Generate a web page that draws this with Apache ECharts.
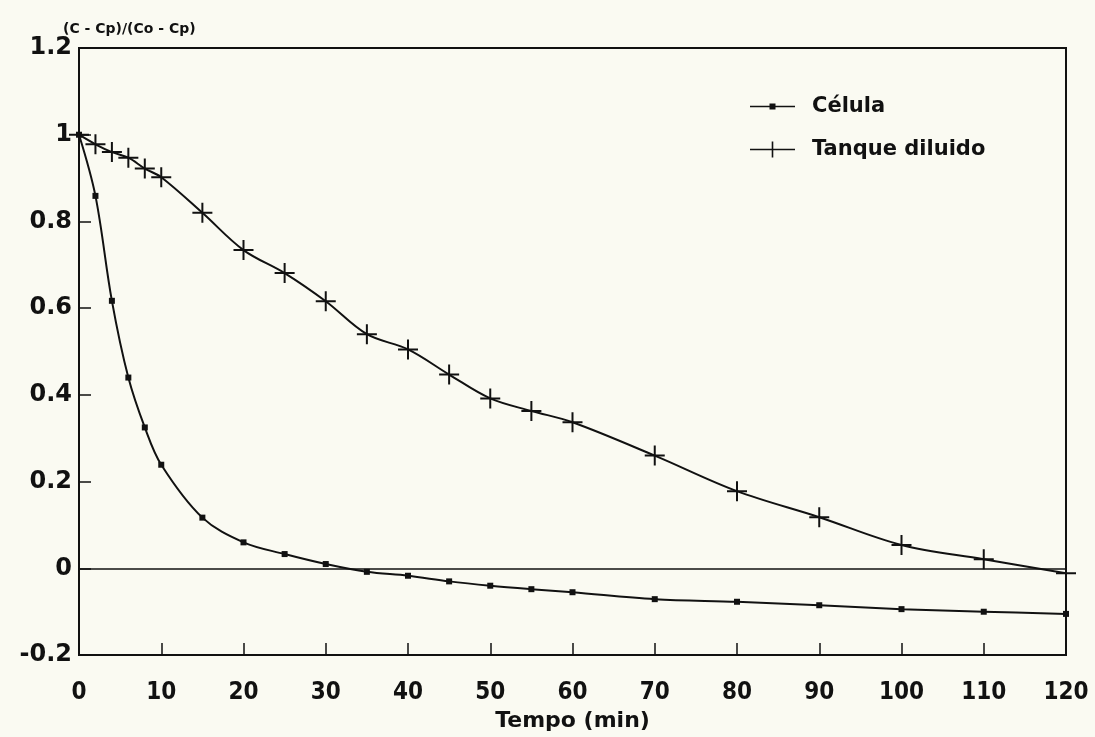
<!DOCTYPE html>
<html>
<head>
<meta charset="utf-8">
<title>Célula / Tanque diluido</title>
<script src="https://cdn.jsdelivr.net/npm/echarts@6/dist/echarts.min.js"></script>
<style>
  html, body { margin: 0; padding: 0; background: #fafaf2; }
  #chart { width: 1095px; height: 737px; }
</style>
</head>
<body>
<div id="chart"></div>
<script>
// Normalised concentration (C - Cp)/(Co - Cp) versus time (min)
const celulaTime  = [0, 2, 4, 6, 8, 10, 15, 20, 25, 30, 35, 40, 45, 50, 55, 60, 70, 80, 90, 100, 110, 120];
const celulaValue = [1.0, 0.859, 0.617, 0.44, 0.325, 0.239, 0.117, 0.06, 0.033, 0.01, -0.008, -0.017, -0.03, -0.04, -0.048, -0.055, -0.071, -0.077, -0.085, -0.094, -0.1, -0.105];

const tanqueTime  = [0, 2, 4, 6, 8, 10, 15, 20, 25, 30, 35, 40, 45, 50, 55, 60, 70, 80, 90, 100, 110, 120];
const tanqueValue = [1.0, 0.978, 0.96, 0.947, 0.922, 0.902, 0.82, 0.734, 0.681, 0.616, 0.54, 0.505, 0.447, 0.392, 0.363, 0.337, 0.26, 0.178, 0.118, 0.054, 0.021, -0.011];

const seriesNames = ['Célula', 'Tanque diluido'];
const xAxisTitle = 'Tempo (min)';
const yAxisTitle = '(C - Cp)/(Co - Cp)';
const xMin = 0, xMax = 120, xStep = 10;
const yMin = -0.2, yMax = 1.2, yStep = 0.2;

const pairs = (xs, ys) => xs.map((x, i) => [x, ys[i]]);

const ink = '#111';
const plusPath = 'path://M9,0h2v9h9v2h-9v9h-2v-9h-9v-2h9z';
// legend icons: a short line with the series marker in the middle
const legendDotIcon  = 'path://M0,7.2h45v1.6h-45z M19.5,5h6v6h-6z';
const legendPlusIcon = 'path://M0,7.2h45v1.6h-45z M21.7,0h1.6v16h-1.6z';

const chart = echarts.init(document.getElementById('chart'), null, { renderer: 'canvas' });

chart.setOption({
  animation: false,
  backgroundColor: '#fafaf2',
  grid: {
    left: 79, right: 29, top: 48, bottom: 79,
    show: true, borderColor: ink, borderWidth: 2, backgroundColor: 'transparent'
  },
  legend: {
    orient: 'vertical',
    left: 745, top: 91,
    itemWidth: 45, itemHeight: 16, itemGap: 22,
    textStyle: { fontFamily: 'DejaVu Sans', fontWeight: 'bold', fontSize: 21, color: ink, padding: [0, 0, 0, 12] },
    data: [
      { name: seriesNames[0], icon: legendDotIcon },
      { name: seriesNames[1], icon: legendPlusIcon }
    ]
  },
  xAxis: {
    type: 'value', min: xMin, max: xMax, interval: xStep,
    name: xAxisTitle, nameLocation: 'middle', nameGap: 52,
    nameTextStyle: { fontFamily: 'DejaVu Sans', fontWeight: 'bold', fontSize: 22, color: ink },
    axisLine: { show: true, onZero: false, lineStyle: { color: ink, width: 2 } },
    axisTick: { show: true, inside: true, length: 12, lineStyle: { color: ink, width: 1.5 } },
    axisLabel: { margin: 26, fontFamily: "'DejaVu Sans Condensed', 'Liberation Sans Narrow', 'DejaVu Sans'", fontWeight: 'bold', fontSize: 24, color: ink },
    splitLine: { show: false }
  },
  yAxis: {
    type: 'value', min: yMin, max: yMax, interval: yStep,
    name: yAxisTitle, nameLocation: 'end', nameGap: 8,
    nameTextStyle: { fontFamily: 'DejaVu Sans', fontWeight: 'bold', fontSize: 14, color: ink, align: 'left', padding: [0, 0, 0, -16] },
    axisLine: { show: true, lineStyle: { color: ink, width: 2 } },
    axisTick: { show: true, inside: true, length: 12, lineStyle: { color: ink, width: 1.5 } },
    axisLabel: { margin: 7, fontFamily: 'DejaVu Sans', fontWeight: 'bold', fontSize: 24, color: ink, padding: [8, 0, 0, 0] },
    splitLine: { show: false }
  },
  series: [
    {
      name: seriesNames[0],
      type: 'line',
      data: pairs(celulaTime, celulaValue),
      smooth: 0.35,
      symbol: 'rect',
      symbolSize: 6,
      showAllSymbol: true,
      lineStyle: { color: ink, width: 2 },
      itemStyle: { color: ink },
      z: 3,
      markLine: {
        silent: true,
        symbol: 'none',
        label: { show: false },
        lineStyle: { color: ink, width: 1.5, type: 'solid' },
        data: [{ yAxis: 0 }]
      }
    },
    {
      name: seriesNames[1],
      type: 'line',
      data: pairs(tanqueTime, tanqueValue),
      smooth: 0.35,
      symbol: plusPath,
      symbolSize: 20,
      showAllSymbol: true,
      lineStyle: { color: ink, width: 2 },
      itemStyle: { color: ink },
      z: 4
    }
  ]
});
</script>
</body>
</html>
